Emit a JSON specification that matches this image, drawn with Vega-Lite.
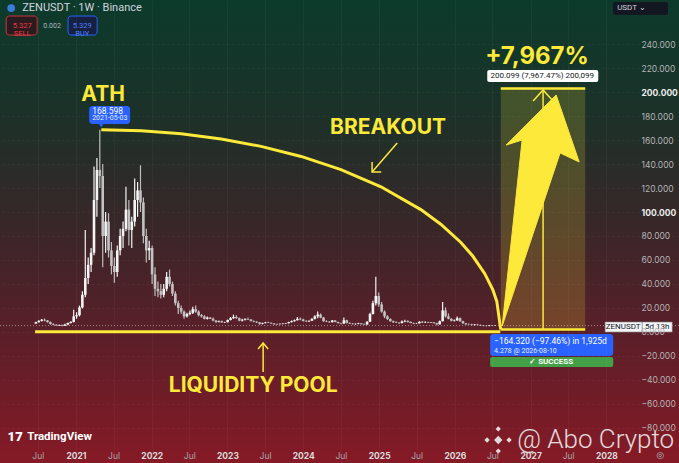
{
"$schema": "https://vega.github.io/schema/vega-lite/v6.json",
"width": 679, "height": 463, "autosize": {"type": "none"}, "padding": 0,
"background": "#3a2529",
"config": {"view": {"stroke": null}, "text": {"font": "Inter"}, "axis": {"labelFont": "Inter"}},
"datasets": {
"candles": [
{"d":"2020-06-22","o":7.0,"h":8.5,"l":6.8,"c":8.2},
{"d":"2020-07-06","o":8.2,"h":9.8,"l":7.9,"c":9.3},
{"d":"2020-07-20","o":9.3,"h":10.8,"l":8.8,"c":10.2},
{"d":"2020-08-03","o":10.2,"h":11.2,"l":9.0,"c":9.6},
{"d":"2020-08-17","o":9.6,"h":10.0,"l":7.8,"c":8.2},
{"d":"2020-08-31","o":8.2,"h":8.8,"l":6.2,"c":6.6},
{"d":"2020-09-14","o":6.6,"h":7.2,"l":5.6,"c":6.0},
{"d":"2020-09-28","o":6.0,"h":6.4,"l":5.2,"c":5.5},
{"d":"2020-10-12","o":5.5,"h":6.3,"l":5.1,"c":5.8},
{"d":"2020-10-26","o":5.8,"h":6.2,"l":4.8,"c":5.2},
{"d":"2020-11-09","o":5.2,"h":6.8,"l":5.0,"c":6.2},
{"d":"2020-11-23","o":6.2,"h":8.0,"l":5.6,"c":7.5},
{"d":"2020-12-07","o":7.5,"h":9.0,"l":7.0,"c":8.4},
{"d":"2020-12-21","o":8.4,"h":18.5,"l":8.0,"c":13.0},
{"d":"2021-01-04","o":13.0,"h":16.5,"l":11.0,"c":14.0},
{"d":"2021-01-18","o":14.0,"h":22.0,"l":13.0,"c":20.5},
{"d":"2021-02-01","o":20.5,"h":34.0,"l":19.5,"c":31.0},
{"d":"2021-02-15","o":31.0,"h":85.0,"l":29.0,"c":45.0},
{"d":"2021-03-01","o":45.0,"h":62.0,"l":40.0,"c":56.0},
{"d":"2021-03-15","o":56.0,"h":70.0,"l":50.0,"c":66.0},
{"d":"2021-03-29","o":66.0,"h":138.0,"l":64.0,"c":110.0},
{"d":"2021-04-12","o":110.0,"h":145.0,"l":96.0,"c":135.0},
{"d":"2021-04-26","o":135.0,"h":168.6,"l":120.0,"c":130.0},
{"d":"2021-05-10","o":130.0,"h":140.0,"l":54.0,"c":80.0},
{"d":"2021-05-24","o":80.0,"h":100.0,"l":66.0,"c":92.0},
{"d":"2021-06-07","o":92.0,"h":99.0,"l":62.0,"c":68.0},
{"d":"2021-06-21","o":68.0,"h":75.0,"l":48.0,"c":55.0},
{"d":"2021-07-05","o":55.0,"h":62.0,"l":41.0,"c":50.0},
{"d":"2021-07-19","o":50.0,"h":72.0,"l":46.0,"c":68.0},
{"d":"2021-08-02","o":68.0,"h":86.0,"l":64.0,"c":80.0},
{"d":"2021-08-16","o":80.0,"h":92.0,"l":70.0,"c":86.0},
{"d":"2021-08-30","o":86.0,"h":121.0,"l":84.0,"c":102.0},
{"d":"2021-09-13","o":102.0,"h":110.0,"l":72.0,"c":85.0},
{"d":"2021-09-27","o":85.0,"h":96.0,"l":70.0,"c":92.0},
{"d":"2021-10-11","o":92.0,"h":128.0,"l":88.0,"c":110.0},
{"d":"2021-10-25","o":110.0,"h":125.0,"l":96.0,"c":118.0},
{"d":"2021-11-08","o":118.0,"h":139.0,"l":100.0,"c":108.0},
{"d":"2021-11-22","o":108.0,"h":112.0,"l":74.0,"c":80.0},
{"d":"2021-12-06","o":80.0,"h":86.0,"l":58.0,"c":68.0},
{"d":"2021-12-20","o":68.0,"h":76.0,"l":60.0,"c":70.0},
{"d":"2022-01-03","o":70.0,"h":72.0,"l":40.0,"c":48.0},
{"d":"2022-01-17","o":48.0,"h":54.0,"l":30.0,"c":36.0},
{"d":"2022-01-31","o":36.0,"h":42.0,"l":29.0,"c":34.0},
{"d":"2022-02-14","o":34.0,"h":40.0,"l":28.0,"c":31.0},
{"d":"2022-02-28","o":31.0,"h":40.0,"l":29.0,"c":36.0},
{"d":"2022-03-14","o":36.0,"h":50.0,"l":34.0,"c":46.0},
{"d":"2022-03-28","o":46.0,"h":52.0,"l":38.0,"c":40.0},
{"d":"2022-04-11","o":40.0,"h":42.0,"l":30.0,"c":32.0},
{"d":"2022-04-25","o":32.0,"h":34.0,"l":22.0,"c":24.0},
{"d":"2022-05-09","o":24.0,"h":26.0,"l":15.0,"c":20.0},
{"d":"2022-05-23","o":20.0,"h":22.0,"l":15.0,"c":17.0},
{"d":"2022-06-06","o":17.0,"h":18.0,"l":11.0,"c":13.0},
{"d":"2022-06-20","o":13.0,"h":16.0,"l":12.0,"c":15.0},
{"d":"2022-07-04","o":15.0,"h":18.0,"l":14.0,"c":16.0},
{"d":"2022-07-18","o":16.0,"h":21.0,"l":15.0,"c":19.0},
{"d":"2022-08-01","o":19.0,"h":22.0,"l":16.0,"c":17.0},
{"d":"2022-08-15","o":17.0,"h":18.0,"l":13.0,"c":14.0},
{"d":"2022-08-29","o":14.0,"h":15.0,"l":12.0,"c":13.0},
{"d":"2022-09-12","o":13.0,"h":14.0,"l":10.5,"c":11.0},
{"d":"2022-09-26","o":11.0,"h":13.0,"l":10.5,"c":12.0},
{"d":"2022-10-10","o":12.0,"h":12.5,"l":10.8,"c":11.0},
{"d":"2022-10-24","o":11.0,"h":12.0,"l":9.0,"c":9.5},
{"d":"2022-11-07","o":9.5,"h":10.0,"l":7.5,"c":8.5},
{"d":"2022-11-21","o":8.5,"h":9.5,"l":8.0,"c":9.0},
{"d":"2022-12-05","o":9.0,"h":9.5,"l":7.8,"c":8.0},
{"d":"2022-12-19","o":8.0,"h":8.5,"l":7.5,"c":8.2},
{"d":"2023-01-02","o":8.2,"h":10.5,"l":8.0,"c":10.0},
{"d":"2023-01-16","o":10.0,"h":12.5,"l":9.6,"c":11.5},
{"d":"2023-01-30","o":11.5,"h":14.5,"l":11.0,"c":12.5},
{"d":"2023-02-13","o":12.5,"h":14.0,"l":11.0,"c":11.5},
{"d":"2023-02-27","o":11.5,"h":12.0,"l":9.0,"c":9.5},
{"d":"2023-03-13","o":9.5,"h":11.0,"l":8.8,"c":10.2},
{"d":"2023-03-27","o":10.2,"h":11.5,"l":9.6,"c":10.8},
{"d":"2023-04-10","o":10.8,"h":12.0,"l":10.0,"c":10.4},
{"d":"2023-04-24","o":10.4,"h":10.8,"l":8.8,"c":9.2},
{"d":"2023-05-08","o":9.2,"h":9.6,"l":8.2,"c":8.6},
{"d":"2023-05-22","o":8.6,"h":9.0,"l":7.6,"c":8.0},
{"d":"2023-06-05","o":8.0,"h":8.3,"l":6.0,"c":6.8},
{"d":"2023-06-19","o":6.8,"h":7.8,"l":6.4,"c":7.4},
{"d":"2023-07-03","o":7.4,"h":8.4,"l":7.2,"c":8.0},
{"d":"2023-07-17","o":8.0,"h":8.5,"l":7.4,"c":7.6},
{"d":"2023-07-31","o":7.6,"h":7.9,"l":6.8,"c":7.0},
{"d":"2023-08-14","o":7.0,"h":7.2,"l":6.0,"c":6.4},
{"d":"2023-08-28","o":6.4,"h":6.8,"l":6.0,"c":6.5},
{"d":"2023-09-11","o":6.5,"h":7.0,"l":6.2,"c":6.8},
{"d":"2023-09-25","o":6.8,"h":7.4,"l":6.5,"c":7.0},
{"d":"2023-10-09","o":7.0,"h":7.6,"l":6.6,"c":7.3},
{"d":"2023-10-23","o":7.3,"h":8.6,"l":7.0,"c":8.2},
{"d":"2023-11-06","o":8.2,"h":9.6,"l":7.9,"c":9.0},
{"d":"2023-11-20","o":9.0,"h":10.4,"l":8.6,"c":9.8},
{"d":"2023-12-04","o":9.8,"h":12.5,"l":9.5,"c":11.0},
{"d":"2023-12-18","o":11.0,"h":12.0,"l":9.8,"c":10.5},
{"d":"2024-01-01","o":10.5,"h":11.0,"l":8.8,"c":9.2},
{"d":"2024-01-15","o":9.2,"h":9.8,"l":8.4,"c":8.8},
{"d":"2024-01-29","o":8.8,"h":9.6,"l":8.4,"c":9.4},
{"d":"2024-02-12","o":9.4,"h":11.5,"l":9.2,"c":11.0},
{"d":"2024-02-26","o":11.0,"h":14.0,"l":10.5,"c":13.0},
{"d":"2024-03-11","o":13.0,"h":17.0,"l":11.5,"c":14.5},
{"d":"2024-03-25","o":14.5,"h":15.5,"l":11.5,"c":12.0},
{"d":"2024-04-08","o":12.0,"h":12.6,"l":8.5,"c":9.0},
{"d":"2024-04-22","o":9.0,"h":9.8,"l":8.2,"c":8.6},
{"d":"2024-05-06","o":8.6,"h":9.2,"l":7.8,"c":8.2},
{"d":"2024-05-20","o":8.2,"h":10.0,"l":8.0,"c":9.6},
{"d":"2024-06-03","o":9.6,"h":10.0,"l":8.2,"c":8.4},
{"d":"2024-06-17","o":8.4,"h":8.6,"l":7.0,"c":7.4},
{"d":"2024-07-01","o":7.4,"h":7.8,"l":6.4,"c":7.0},
{"d":"2024-07-15","o":7.0,"h":12.0,"l":6.8,"c":9.8},
{"d":"2024-07-29","o":9.8,"h":10.2,"l":7.0,"c":7.6},
{"d":"2024-08-12","o":7.6,"h":8.0,"l":6.6,"c":7.0},
{"d":"2024-08-26","o":7.0,"h":7.4,"l":6.2,"c":6.6},
{"d":"2024-09-09","o":6.6,"h":7.2,"l":6.0,"c":6.8},
{"d":"2024-09-23","o":6.8,"h":7.8,"l":6.5,"c":7.2},
{"d":"2024-10-07","o":7.2,"h":7.6,"l":6.2,"c":6.5},
{"d":"2024-10-21","o":6.5,"h":7.0,"l":5.8,"c":6.2},
{"d":"2024-11-04","o":6.2,"h":9.0,"l":6.0,"c":8.6},
{"d":"2024-11-18","o":8.6,"h":16.0,"l":8.4,"c":15.0},
{"d":"2024-12-02","o":15.0,"h":26.0,"l":14.5,"c":24.0},
{"d":"2024-12-16","o":24.0,"h":46.0,"l":22.0,"c":30.0},
{"d":"2024-12-30","o":30.0,"h":33.0,"l":21.0,"c":23.0},
{"d":"2025-01-13","o":23.0,"h":25.0,"l":16.0,"c":17.0},
{"d":"2025-01-27","o":17.0,"h":18.0,"l":11.5,"c":13.0},
{"d":"2025-02-10","o":13.0,"h":14.0,"l":10.0,"c":10.8},
{"d":"2025-02-24","o":10.8,"h":11.5,"l":8.6,"c":9.0},
{"d":"2025-03-10","o":9.0,"h":9.6,"l":7.6,"c":8.2},
{"d":"2025-03-24","o":8.2,"h":9.0,"l":7.4,"c":7.8},
{"d":"2025-04-07","o":7.8,"h":8.2,"l":6.6,"c":7.4},
{"d":"2025-04-21","o":7.4,"h":9.6,"l":7.2,"c":8.8},
{"d":"2025-05-05","o":8.8,"h":10.2,"l":8.2,"c":9.2},
{"d":"2025-05-19","o":9.2,"h":9.8,"l":8.0,"c":8.4},
{"d":"2025-06-02","o":8.4,"h":8.8,"l":7.2,"c":7.5},
{"d":"2025-06-16","o":7.5,"h":7.8,"l":6.6,"c":7.0},
{"d":"2025-06-30","o":7.0,"h":7.6,"l":6.8,"c":7.2},
{"d":"2025-07-14","o":7.2,"h":9.0,"l":7.0,"c":8.5},
{"d":"2025-07-28","o":8.5,"h":9.2,"l":7.6,"c":8.0},
{"d":"2025-08-11","o":8.0,"h":9.0,"l":7.6,"c":8.2},
{"d":"2025-08-25","o":8.2,"h":8.6,"l":7.4,"c":7.8},
{"d":"2025-09-08","o":7.8,"h":8.4,"l":7.5,"c":8.0},
{"d":"2025-09-22","o":8.0,"h":8.4,"l":7.0,"c":7.3},
{"d":"2025-10-06","o":7.3,"h":7.8,"l":5.6,"c":6.4},
{"d":"2025-10-20","o":6.4,"h":9.5,"l":6.2,"c":9.0},
{"d":"2025-11-03","o":9.0,"h":25.0,"l":8.8,"c":18.0},
{"d":"2025-11-17","o":18.0,"h":20.5,"l":12.0,"c":13.0},
{"d":"2025-12-01","o":13.0,"h":15.5,"l":10.5,"c":11.0},
{"d":"2025-12-15","o":11.0,"h":11.5,"l":8.8,"c":9.4},
{"d":"2025-12-29","o":9.4,"h":10.4,"l":8.8,"c":9.8},
{"d":"2026-01-12","o":9.8,"h":13.0,"l":9.2,"c":11.5},
{"d":"2026-01-26","o":11.5,"h":12.0,"l":8.6,"c":9.0},
{"d":"2026-02-09","o":9.0,"h":9.4,"l":6.8,"c":7.2},
{"d":"2026-02-23","o":7.2,"h":7.6,"l":6.0,"c":6.4},
{"d":"2026-03-09","o":6.4,"h":7.0,"l":5.8,"c":6.3},
{"d":"2026-03-23","o":6.3,"h":6.8,"l":5.5,"c":5.8},
{"d":"2026-04-06","o":5.8,"h":6.6,"l":5.4,"c":6.2},
{"d":"2026-04-20","o":6.2,"h":6.8,"l":5.6,"c":5.9},
{"d":"2026-05-04","o":5.9,"h":6.2,"l":5.0,"c":5.4},
{"d":"2026-05-18","o":5.4,"h":5.8,"l":4.8,"c":5.1},
{"d":"2026-06-01","o":5.1,"h":5.6,"l":4.6,"c":5.0},
{"d":"2026-06-15","o":5.0,"h":5.6,"l":4.7,"c":5.4},
{"d":"2026-06-29","o":5.4,"h":5.8,"l":4.9,"c":5.2},
{"d":"2026-07-13","o":5.2,"h":5.6,"l":5.0,"c":5.33}
],
"curve": [
{"i":0,"d":"2021-05-03","v":168.6},
{"i":1,"d":"2021-11-12","v":167.8},
{"i":2,"d":"2022-05-23","v":165.3},
{"i":3,"d":"2022-12-02","v":160.9},
{"i":4,"d":"2023-06-12","v":154.7},
{"i":5,"d":"2023-12-22","v":146.3},
{"i":6,"d":"2024-07-01","v":135.3},
{"i":7,"d":"2025-01-10","v":121.0},
{"i":8,"d":"2025-07-21","v":102.0},
{"i":9,"d":"2025-10-25","v":89.8},
{"i":10,"d":"2026-01-30","v":74.6},
{"i":11,"d":"2026-03-28","v":63.3},
{"i":12,"d":"2026-05-25","v":48.6},
{"i":13,"d":"2026-07-03","v":35.2},
{"i":14,"d":"2026-07-22","v":25.5},
{"i":15,"d":"2026-08-10","v":2.0}
],
"strokes": [
{"g":"m","i":0,"d":"2027-01-13","v":192.5},
{"g":"m","i":1,"d":"2027-03-02","v":201.7},
{"g":"m","i":2,"d":"2027-04-19","v":192.5},
{"g":"b1","i":0,"d":"2025-03-29","v":157.5},
{"g":"b1","i":1,"d":"2024-11-28","v":133.3},
{"g":"b2","i":0,"d":"2024-11-28","v":141.7},
{"g":"b2","i":1,"d":"2024-11-28","v":133.3},
{"g":"b2","i":2,"d":"2025-01-11","v":133.3},
{"g":"l1","i":0,"d":"2023-06-22","v":-33.3},
{"g":"l1","i":1,"d":"2023-06-22","v":-9.2},
{"g":"l2","i":0,"d":"2023-05-29","v":-14.2},
{"g":"l2","i":1,"d":"2023-06-22","v":-9.2},
{"g":"l2","i":2,"d":"2023-07-16","v":-14.2}
],
"arrow": [
{"i":0,"d":"2026-08-17","v":5.0},
{"i":1,"d":"2026-11-21","v":160.0},
{"i":2,"d":"2026-09-05","v":155.8},
{"i":3,"d":"2027-05-04","v":197.5},
{"i":4,"d":"2027-08-23","v":141.7},
{"i":5,"d":"2027-05-23","v":149.2},
{"i":6,"d":"2026-08-17","v":5.0}
]
},
"layer": [
{
"data": {"values": [{"d":"2020-01-01","d2":"2028-12-16","v":276.67,"v2":-109.17}]},
"mark": {"type":"rect","fill":{"gradient":"linear","x1":0,"y1":0,"x2":0,"y2":1,"stops":[{"offset":0,"color":"#0c3b2b"},{"offset":0.25,"color":"#1c3129"},{"offset":0.5,"color":"#3a2629"},{"offset":0.72,"color":"#5a1f29"},{"offset":1,"color":"#861a26"}]}},
"encoding": {
"x": {"field":"d","type":"temporal",
"scale":{"type":"utc","domain":[{"year":2020,"month":1,"date":1,"utc":true},{"year":2028,"month":12,"date":16,"utc":true}]},
"axis":{"title":null,"orient":"bottom","offset":-14,"domain":false,"ticks":false,"labelPadding":2,"labelFontSize":8.5,"labelFlush":false,"labelOverlap":false,"tickCount":30,"grid":true,"gridColor":"#ffffff","gridOpacity":0.035,"zindex":1,
"values":[{"year":2020,"month":7,"date":1,"utc":true},{"year":2021,"month":1,"date":1,"utc":true},{"year":2021,"month":7,"date":1,"utc":true},{"year":2022,"month":1,"date":1,"utc":true},{"year":2022,"month":7,"date":1,"utc":true},{"year":2023,"month":1,"date":1,"utc":true},{"year":2023,"month":7,"date":1,"utc":true},{"year":2024,"month":1,"date":1,"utc":true},{"year":2024,"month":7,"date":1,"utc":true},{"year":2025,"month":1,"date":1,"utc":true},{"year":2025,"month":7,"date":1,"utc":true},{"year":2026,"month":1,"date":1,"utc":true},{"year":2026,"month":7,"date":1,"utc":true},{"year":2027,"month":1,"date":1,"utc":true},{"year":2027,"month":7,"date":1,"utc":true},{"year":2028,"month":1,"date":1,"utc":true}],
"labelExpr":"utcmonth(datum.value) == 0 ? utcFormat(datum.value, '%Y') : 'Jul'",
"labelColor":{"condition":{"test":"utcmonth(datum.value) == 0","value":"#dcdcdc"},"value":"#a8a8a8"},
"labelFontWeight":{"condition":{"test":"utcmonth(datum.value) == 0","value":"bold"},"value":"normal"}}},
"x2": {"field":"d2"},
"y": {"field":"v","type":"quantitative",
"scale":{"domain":[-109.17,276.67],"nice":false,"zero":false},
"axis":{"title":null,"orient":"right","offset":-40,"domain":false,"ticks":false,"labelPadding":2,"labelAlign":"left","labelBaseline":"middle","labelFontSize":8.5,"labelOverlap":false,"labelFlush":false,"tickCount":30,"format":".3f","grid":true,"gridColor":"#ffffff","gridOpacity":0.05,"gridDash":[2,3],"zindex":1,
"values":[-80,-60,-40,-20,0,20,40,60,80,100,120,140,160,180,200,220,240],
"labelColor":{"condition":{"test":"datum.value == 100 || datum.value == 200","value":"#eeeeee"},"value":"#b3b3b3"},
"labelFontWeight":{"condition":{"test":"datum.value == 100 || datum.value == 200","value":"bold"},"value":"normal"}}},
"y2": {"field":"v2"}
}
},
{
"data": {"values": [{"v":5.33}]},
"mark": {"type":"rule","color":"#ffffff","opacity":0.45,"strokeDash":[1,2],"strokeWidth":1},
"encoding": {"y": {"field":"v","type":"quantitative"}}
},
{
"data": {"name":"candles"},
"mark": {"type":"rule","strokeWidth":1.2},
"encoding": {"x":{"field":"d","type":"temporal"},"y":{"field":"l","type":"quantitative"},"y2":{"field":"h"},
"color":{"condition":{"test":"datum.c >= datum.o","value":"#f4f4f4"},"value":"#bdbdbd"}}
},
{
"data": {"name":"candles"},
"mark": {"type":"rule","strokeWidth":2.6},
"encoding": {"x":{"field":"d","type":"temporal"},"y":{"field":"o","type":"quantitative"},"y2":{"field":"c"},
"color":{"condition":{"test":"datum.c >= datum.o","value":"#f4f4f4"},"value":"#c2c2c2"}}
},
{
"data": {"values": [{"d":"2020-06-18","d2":"2026-08-08","v":0.3}]},
"mark": {"type":"rule","color":"#fde93a","strokeWidth":3},
"encoding": {"x":{"field":"d","type":"temporal"},"x2":{"field":"d2"},"y":{"field":"v","type":"quantitative"}}
},
{
"data": {"name":"curve"},
"mark": {"type":"line","color":"#fde93a","strokeWidth":3},
"encoding": {"x":{"field":"d","type":"temporal"},"y":{"field":"v","type":"quantitative"},"order":{"field":"i"}}
},
{
"data": {"values": [{"d":"2026-08-10","d2":"2027-09-21","v":2.0,"v2":203.0}]},
"mark": {"type":"rect","color":"#fde93a","opacity":0.18},
"encoding": {"x":{"field":"d","type":"temporal"},"x2":{"field":"d2"},"y":{"field":"v","type":"quantitative"},"y2":{"field":"v2"}}
},
{
"data": {"values": [{"d":"2026-08-10","d2":"2027-09-21","v":2.0},{"d":"2026-08-10","d2":"2027-09-21","v":203.0}]},
"mark": {"type":"rule","color":"#fde93a","strokeWidth":2.5},
"encoding": {"x":{"field":"d","type":"temporal"},"x2":{"field":"d2"},"y":{"field":"v","type":"quantitative"}}
},
{
"data": {"values": [{"d":"2027-03-02","v":2.0,"v2":201.7}]},
"mark": {"type":"rule","color":"#fde93a","strokeWidth":1.5},
"encoding": {"x":{"field":"d","type":"temporal"},"y":{"field":"v","type":"quantitative"},"y2":{"field":"v2"}}
},
{
"data": {"name":"strokes"},
"mark": {"type":"line","color":"#fde93a","strokeWidth":1.5},
"encoding": {"x":{"field":"d","type":"temporal"},"y":{"field":"v","type":"quantitative"},"detail":{"field":"g"},"order":{"field":"i"}}
},
{
"data": {"name":"arrow"},
"mark": {"type":"line","filled":true,"fill":"#fde93a","stroke":"#fde93a","strokeWidth":1,"strokeJoin":"miter"},
"encoding": {"x":{"field":"d","type":"temporal"},"y":{"field":"v","type":"quantitative"},"order":{"field":"i"}}
},
{
"data": {"values": [{"d":"2021-03-06","d2":"2021-09-19","v":188.3,"v2":173.3},{"d":"2026-06-20","d2":"2028-02-03","v":-1.7,"v2":-20.0}]},
"mark": {"type":"rect","color":"#2962ff","cornerRadius":3},
"encoding": {"x":{"field":"d","type":"temporal"},"x2":{"field":"d2"},"y":{"field":"v","type":"quantitative"},"y2":{"field":"v2"}}
},
{
"data": {"values": [{"d":"2021-05-03","v":172.0}]},
"mark": {"type":"point","shape":"triangle-down","filled":true,"color":"#2962ff","size":20,"opacity":1},
"encoding": {"x":{"field":"d","type":"temporal"},"y":{"field":"v","type":"quantitative"}}
},
{
"data": {"values": [{"d":"2026-06-20","d2":"2028-02-03","v":-20.8,"v2":-29.2}]},
"mark": {"type":"rect","color":"#43a047","cornerRadius":2},
"encoding": {"x":{"field":"d","type":"temporal"},"x2":{"field":"d2"},"y":{"field":"v","type":"quantitative"},"y2":{"field":"v2"}}
},
{
"data": {"values": [{"d":"2026-06-06","d2":"2027-11-23","v":218.3,"v2":208.3}]},
"mark": {"type":"rect","color":"#ffffff","cornerRadius":2},
"encoding": {"x":{"field":"d","type":"temporal"},"x2":{"field":"d2"},"y":{"field":"v","type":"quantitative"},"y2":{"field":"v2"}}
},
{
"data": {"values": [{"d":"2027-12-26","d2":"2028-06-22","v":8.3,"v2":0.0},{"d":"2028-06-22","d2":"2028-11-13","v":8.3,"v2":0.0}]},
"mark": {"type":"rect","fill":"#f4f5f8","stroke":"#8a8a8a","strokeWidth":0.6},
"encoding": {"x":{"field":"d","type":"temporal"},"x2":{"field":"d2"},"y":{"field":"v","type":"quantitative"},"y2":{"field":"v2"}}
},
{
"data": {"values": [{"d":"2020-01-31","d2":"2020-06-28","v":263.3,"v2":247.5}]},
"mark": {"type":"rect","fill":"#2a1c1e","stroke":"#c8323e","strokeWidth":1,"cornerRadius":3},
"encoding": {"x":{"field":"d","type":"temporal"},"x2":{"field":"d2"},"y":{"field":"v","type":"quantitative"},"y2":{"field":"v2"}}
},
{
"data": {"values": [{"d":"2020-11-24","d2":"2021-04-13","v":263.3,"v2":247.5}]},
"mark": {"type":"rect","fill":"#16213f","stroke":"#2962ff","strokeWidth":1,"cornerRadius":3},
"encoding": {"x":{"field":"d","type":"temporal"},"x2":{"field":"d2"},"y":{"field":"v","type":"quantitative"},"y2":{"field":"v2"}}
},
{
"data": {"values": [{"d":"2028-02-02","d2":"2028-10-24","v":275.0,"v2":264.2}]},
"mark": {"type":"rect","fill":"#131722","cornerRadius":2},
"encoding": {"x":{"field":"d","type":"temporal"},"x2":{"field":"d2"},"y":{"field":"v","type":"quantitative"},"y2":{"field":"v2"}}
},
{
"data": {"values": [{"d":"2021-05-12","v":197.5,"t":"ATH"},{"d":"2025-02-13","v":170.0,"t":"BREAKOUT"},{"d":"2023-05-05","v":-45.0,"t":"LIQUIDITY POOL"}]},
"mark": {"type":"text","font":"Inter","fontSize":21,"fontWeight":"bold","color":"#fde93a","align":"center","baseline":"middle"},
"encoding": {"x":{"field":"d","type":"temporal"},"y":{"field":"v","type":"quantitative"},"text":{"field":"t"}}
},
{
"data": {"values": [{"d":"2027-02-01","v":229.2,"t":"+7,967%"}]},
"mark": {"type":"text","font":"Inter","fontSize":24,"fontWeight":"bold","color":"#fde93a","align":"center","baseline":"middle"},
"encoding": {"x":{"field":"d","type":"temporal"},"y":{"field":"v","type":"quantitative"},"text":{"field":"t"}}
},
{
"data": {"values": [{"d":"2021-03-20","v":184.2,"t":"168.598"},{"d":"2026-07-09","v":-7.5,"t":"−164.320 (−97.46%) in 1,925d"}]},
"mark": {"type":"text","font":"Roboto","fontSize":8.5,"color":"#ffffff","align":"left","baseline":"middle"},
"encoding": {"x":{"field":"d","type":"temporal"},"y":{"field":"v","type":"quantitative"},"text":{"field":"t"}}
},
{
"data": {"values": [{"d":"2021-03-20","v":178.0,"t":"2021-05-03"},{"d":"2026-07-09","v":-15.8,"t":"4.278 @ 2026-08-10"}]},
"mark": {"type":"text","font":"Roboto","fontSize":7,"color":"#e8ecff","align":"left","baseline":"middle"},
"encoding": {"x":{"field":"d","type":"temporal"},"y":{"field":"v","type":"quantitative"},"text":{"field":"t"}}
},
{
"data": {"values": [{"d":"2027-02-26","v":213.3,"t":"200.099 (7,967.47%) 200,099"}]},
"mark": {"type":"text","font":"Roboto","fontSize":8,"color":"#131722","align":"center","baseline":"middle"},
"encoding": {"x":{"field":"d","type":"temporal"},"y":{"field":"v","type":"quantitative"},"text":{"field":"t"}}
},
{
"data": {"values": [{"d":"2027-04-10","v":-25.0,"t":"✓ SUCCESS"}]},
"mark": {"type":"text","font":"Roboto","fontSize":8,"fontWeight":"bold","color":"#ffffff","align":"center","baseline":"middle"},
"encoding": {"x":{"field":"d","type":"temporal"},"y":{"field":"v","type":"quantitative"},"text":{"field":"t"}}
},
{
"data": {"values": [{"d":"2028-03-22","v":4.17,"t":"ZENUSDT"},{"d":"2028-09-02","v":4.17,"t":"5d 13h"}]},
"mark": {"type":"text","font":"Roboto","fontSize":8,"color":"#131722","align":"center","baseline":"middle"},
"encoding": {"x":{"field":"d","type":"temporal"},"y":{"field":"v","type":"quantitative"},"text":{"field":"t"}}
},
{
"data": {"values": [{"d":"2020-04-17","v":270.0,"t":"ZENUSDT · 1W · Binance"}]},
"mark": {"type":"text","font":"Roboto","fontSize":11,"color":"#d1d4dc","align":"left","baseline":"middle"},
"encoding": {"x":{"field":"d","type":"temporal"},"y":{"field":"v","type":"quantitative"},"text":{"field":"t"}}
},
{
"data": {"values": [{"d":"2020-02-24","v":270.0}]},
"mark": {"type":"point","shape":"circle","filled":true,"color":"#3d7bd9","size":60,"opacity":1},
"encoding": {"x":{"field":"d","type":"temporal"},"y":{"field":"v","type":"quantitative"}}
},
{
"data": {"values": [{"d":"2020-04-17","v":255.4,"t":"5.327\nSELL"}]},
"mark": {"type":"text","font":"Roboto","fontSize":7.5,"color":"#f23645","align":"center","baseline":"middle","lineBreak":"\n","lineHeight":8},
"encoding": {"x":{"field":"d","type":"temporal"},"y":{"field":"v","type":"quantitative"},"text":{"field":"t"}}
},
{
"data": {"values": [{"d":"2021-01-31","v":255.4,"t":"5.329\nBUY"}]},
"mark": {"type":"text","font":"Roboto","fontSize":7.5,"color":"#4f7dff","align":"center","baseline":"middle","lineBreak":"\n","lineHeight":8},
"encoding": {"x":{"field":"d","type":"temporal"},"y":{"field":"v","type":"quantitative"},"text":{"field":"t"}}
},
{
"data": {"values": [{"d":"2020-09-08","v":255.4,"t":"0.002"}]},
"mark": {"type":"text","font":"Roboto","fontSize":7,"color":"#b2b5be","align":"center","baseline":"middle"},
"encoding": {"x":{"field":"d","type":"temporal"},"y":{"field":"v","type":"quantitative"},"text":{"field":"t"}}
},
{
"data": {"values": [{"d":"2028-02-22","v":269.6,"t":"USDT  ⌄"}]},
"mark": {"type":"text","font":"Roboto","fontSize":8,"color":"#d1d4dc","align":"left","baseline":"middle"},
"encoding": {"x":{"field":"d","type":"temporal"},"y":{"field":"v","type":"quantitative"},"text":{"field":"t"}}
},
{
"data": {"values": [{"d":"2020-03-14","v":-87.5,"t":"17"}]},
"mark": {"type":"text","font":"Roboto","fontSize":13,"fontWeight":900,"color":"#ffffff","align":"center","baseline":"middle"},
"encoding": {"x":{"field":"d","type":"temporal"},"y":{"field":"v","type":"quantitative"},"text":{"field":"t"}}
},
{
"data": {"values": [{"d":"2020-05-11","v":-87.5,"t":"TradingView"}]},
"mark": {"type":"text","font":"Roboto","fontSize":11.5,"fontWeight":"bold","color":"#ffffff","align":"left","baseline":"middle"},
"encoding": {"x":{"field":"d","type":"temporal"},"y":{"field":"v","type":"quantitative"},"text":{"field":"t"}}
},
{
"data": {"values": [{"d":"2026-10-28","v":-90.0,"t":"@ Abo Crypto"}]},
"mark": {"type":"text","font":"Roboto","fontSize":26,"fontWeight":300,"color":"#f4f4f4","opacity":0.88,"align":"left","baseline":"middle"},
"encoding": {"x":{"field":"d","type":"temporal"},"y":{"field":"v","type":"quantitative"},"text":{"field":"t"}}
},
{
"data": {"values": [{"d":"2026-07-29","v":-90.0}]},
"mark": {"type":"point","shape":"diamond","filled":true,"color":"#f4f4f4","size":70,"opacity":0.88},
"encoding": {"x":{"field":"d","type":"temporal"},"y":{"field":"v","type":"quantitative"}}
},
{
"data": {"values": [{"d":"2026-07-29","v":-80.8},{"d":"2026-07-29","v":-99.2},{"d":"2026-06-05","v":-90.0},{"d":"2026-09-19","v":-90.0}]},
"mark": {"type":"point","shape":"diamond","filled":true,"color":"#f4f4f4","size":28,"opacity":0.88},
"encoding": {"x":{"field":"d","type":"temporal"},"y":{"field":"v","type":"quantitative"}}
},
{
"data": {"values": [{"d":"2028-09-16","v":-102.5,"t":"◎"}]},
"mark": {"type":"text","font":"DejaVu Sans","fontSize":9,"color":"#b2b5be","align":"center","baseline":"middle"},
"encoding": {"x":{"field":"d","type":"temporal"},"y":{"field":"v","type":"quantitative"},"text":{"field":"t"}}
}
]
}
